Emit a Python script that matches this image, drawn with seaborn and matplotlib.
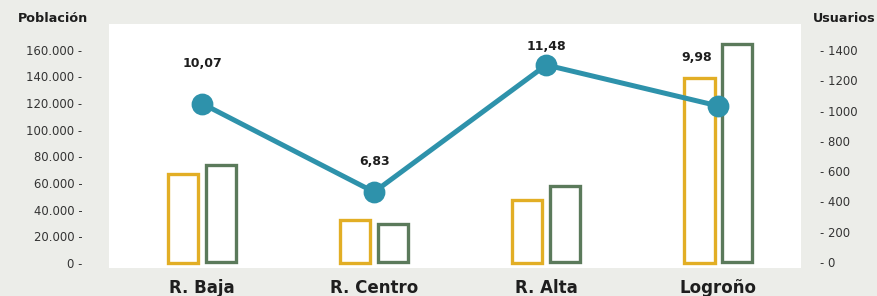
import matplotlib
matplotlib.use("Agg")
import matplotlib.pyplot as plt
import seaborn as sns
import pandas as pd

# datos
regiones = ["R. Baja", "R. Centro", "R. Alta", "Logroño"]
poblacion = [67000, 32000, 47000, 139000]
usuarios = [640, 253, 502, 1440]
ratio = [10.07, 6.83, 11.48, 9.98]

amarillo = "#e2ae25"
verde = "#5b7a5b"
azul = "#2e92ab"
fondo = "#ecede9"
texto = "#1e1e1e"

sns.set_style("white")
plt.rcParams["font.family"] = ["DejaVu Sans"]

df = pd.DataFrame({
    "region": regiones * 2,
    "serie": ["Población"] * 4 + ["Usuarios"] * 4,
    "valor": poblacion + usuarios,
})
orden = ["Población", "Usuarios"]
colores = {"Población": amarillo, "Usuarios": verde}

fig = plt.figure(figsize=(8.78, 2.96), dpi=100, facecolor=fondo)
ax = fig.add_axes([109 / 878, 28 / 296, 692 / 878, 244 / 296])
ax.set_facecolor("white")
ax2 = ax.twinx()
ax3 = ax.twinx()

# las dos series en cada eje para que seaborn las separe; luego se quita la que sobra
for a, quitar in ((ax, 1), (ax2, 0)):
    sns.barplot(data=df, x="region", y="valor", hue="serie",
                order=regiones, hue_order=orden, palette=colores, fill=False,
                width=0.44, gap=0.2, linewidth=2.4, legend=False, ax=a)
    a.containers[quitar].remove()

sns.pointplot(x=regiones, y=ratio, order=regiones, color=azul, errorbar=None,
              markersize=13, linewidth=3.6, ax=ax3)

# etiquetas del indice
offsets = [(0, 40), (0, 31), (0, 18), (-22, 48)]
for i, (v, off) in enumerate(zip(ratio, offsets)):
    ax3.annotate(f"{v:.2f}".replace(".", ","), (i, v), xytext=off,
                 textcoords="offset pixels", ha="center", va="center",
                 fontsize=9, fontweight="bold", color=texto)

ax.set_ylim(-3750, 179300)
ax2.set_ylim(-40, 1572)
ax3.set_ylim(4.05, 12.98)
ax.set_xlim(-0.54, 3.48)

ticks_izq = list(range(0, 160001, 20000))
ax.set_yticks(ticks_izq)
ax.set_yticklabels([f"{t:,}".replace(",", ".") + " -" for t in ticks_izq])
ticks_der = list(range(0, 1401, 200))
ax2.set_yticks(ticks_der)
ax2.set_yticklabels(["- " + str(t) for t in ticks_der])

ax.set_xticks(range(len(regiones)))
ax.set_xticklabels(regiones, fontsize=12, fontweight="bold", color=texto)
ax.tick_params(axis="x", length=0, pad=8)
ax.tick_params(axis="y", length=0, pad=19, labelsize=8.4, labelcolor="#333333")
ax2.tick_params(axis="y", length=0, pad=14, labelsize=8.4, labelcolor="#333333")
ax3.axis("off")

for a in (ax, ax2):
    a.set_xlabel("")
    a.set_ylabel("")
    for s in a.spines.values():
        s.set_visible(False)

fig.text(18 / 878, 1 - 18 / 296, "Población", fontsize=9.2, fontweight="bold",
         color=texto, ha="left", va="center")
fig.text(876 / 878, 1 - 18 / 296, "Usuarios", fontsize=9.2, fontweight="bold",
         color=texto, ha="right", va="center")

fig.savefig("out.png", dpi=100, facecolor=fondo)
